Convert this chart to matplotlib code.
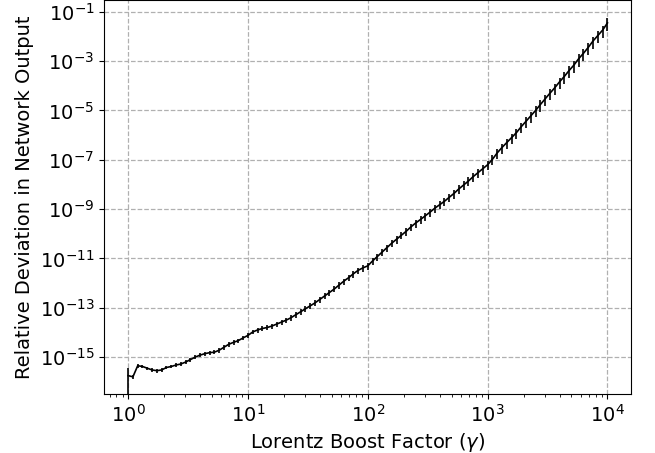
import numpy as np
import matplotlib
matplotlib.use("Agg")
import matplotlib.pyplot as plt

# log10 of the Lorentz boost factor at each sample
log_gamma = [0.00, 0.04, 0.08, 0.12, 0.16, 0.20, 0.24, 0.28, 0.32, 0.36,
             0.40, 0.44, 0.48, 0.52, 0.56, 0.60, 0.64, 0.68, 0.72, 0.76,
             0.80, 0.84, 0.88, 0.92, 0.96, 1.00, 1.04, 1.08, 1.12, 1.16,
             1.20, 1.24, 1.28, 1.32, 1.36, 1.40, 1.44, 1.48, 1.52, 1.56,
             1.60, 1.64, 1.68, 1.72, 1.76, 1.80, 1.84, 1.88, 1.92, 1.96,
             2.00, 2.04, 2.08, 2.12, 2.16, 2.20, 2.24, 2.28, 2.32, 2.36,
             2.40, 2.44, 2.48, 2.52, 2.56, 2.60, 2.64, 2.68, 2.72, 2.76,
             2.80, 2.84, 2.88, 2.92, 2.96, 3.00, 3.04, 3.08, 3.12, 3.16,
             3.20, 3.24, 3.28, 3.32, 3.36, 3.40, 3.44, 3.48, 3.52, 3.56,
             3.60, 3.64, 3.68, 3.72, 3.76, 3.80, 3.84, 3.88, 3.92, 3.96,
             4.00]

# log10 of the relative deviation
log_dev = [-15.75, -15.80, -15.35, -15.38, -15.45, -15.52, -15.55, -15.52, -15.42, -15.38,
           -15.32, -15.28, -15.20, -15.10, -15.00, -14.92, -14.86, -14.82, -14.80, -14.72,
           -14.60, -14.48, -14.40, -14.33, -14.22, -14.12, -13.98, -13.90, -13.84, -13.80,
           -13.74, -13.66, -13.58, -13.50, -13.40, -13.28, -13.16, -13.04, -12.92, -12.80,
           -12.66, -12.52, -12.38, -12.24, -12.08, -11.92, -11.78, -11.62, -11.48, -11.38,
           -11.30, -11.10, -10.92, -10.74, -10.56, -10.38, -10.22, -10.06, -9.90, -9.72,
           -9.56, -9.42, -9.27, -9.12, -8.96, -8.82, -8.68, -8.52, -8.36, -8.18,
           -8.02, -7.86, -7.68, -7.52, -7.36, -7.20, -6.98, -6.72, -6.50, -6.30,
           -6.10, -5.90, -5.66, -5.44, -5.22, -5.00, -4.76, -4.53, -4.30, -4.08,
           -3.84, -3.62, -3.38, -3.16, -2.90, -2.68, -2.44, -2.18, -1.96, -1.74,
           -1.45]

# error as a fraction of the value
rel_err = [1.00, 0.20, 0.16, 0.15, 0.16, 0.17, 0.16, 0.17, 0.16, 0.17,
           0.18, 0.17, 0.18, 0.17, 0.19, 0.18, 0.17, 0.19, 0.18, 0.20,
           0.19, 0.20, 0.19, 0.21, 0.20, 0.22, 0.21, 0.22, 0.21, 0.23,
           0.22, 0.24, 0.23, 0.25, 0.24, 0.25, 0.26, 0.25, 0.27, 0.26,
           0.28, 0.27, 0.28, 0.27, 0.29, 0.28, 0.29, 0.30, 0.29, 0.31,
           0.30, 0.31, 0.32, 0.31, 0.33, 0.32, 0.33, 0.32, 0.34, 0.33,
           0.35, 0.34, 0.36, 0.35, 0.37, 0.36, 0.38, 0.37, 0.39, 0.38,
           0.40, 0.39, 0.41, 0.40, 0.42, 0.41, 0.43, 0.42, 0.44, 0.43,
           0.45, 0.44, 0.46, 0.45, 0.47, 0.46, 0.48, 0.47, 0.49, 0.48,
           0.50, 0.49, 0.51, 0.50, 0.52, 0.51, 0.52, 0.51, 0.52, 0.51,
           0.52]

ytick_exps = [-15, -13, -11, -9, -7, -5, -3, -1]

gamma = 10.0 ** np.array(log_gamma)
dev = 10.0 ** np.array(log_dev)
err = dev * np.array(rel_err)

fig = plt.figure(figsize=(6.55, 4.53), dpi=100)
ax = fig.add_axes([0.159, 0.130, 0.805, 0.870])

ax.errorbar(gamma, dev, yerr=err, color="black", ecolor="black",
            linewidth=1.2, elinewidth=1.2)

ax.set_xscale("log")
ax.set_yscale("log")
ax.set_xlim(10 ** -0.2, 10 ** 4.2)
ax.set_ylim(10 ** -16.5, 10 ** -0.52)
ax.set_yticks([10.0 ** e for e in ytick_exps])
ax.yaxis.set_minor_locator(matplotlib.ticker.NullLocator())

ax.grid(True, which="major", linestyle="--", color="#b0b0b0", linewidth=0.9)
ax.tick_params(labelsize=14)

ax.set_xlabel(r"Lorentz Boost Factor ($\gamma$)", fontsize=14)
ax.set_ylabel("Relative Deviation in Network Output", fontsize=14)

fig.savefig("out.png", dpi=100)
